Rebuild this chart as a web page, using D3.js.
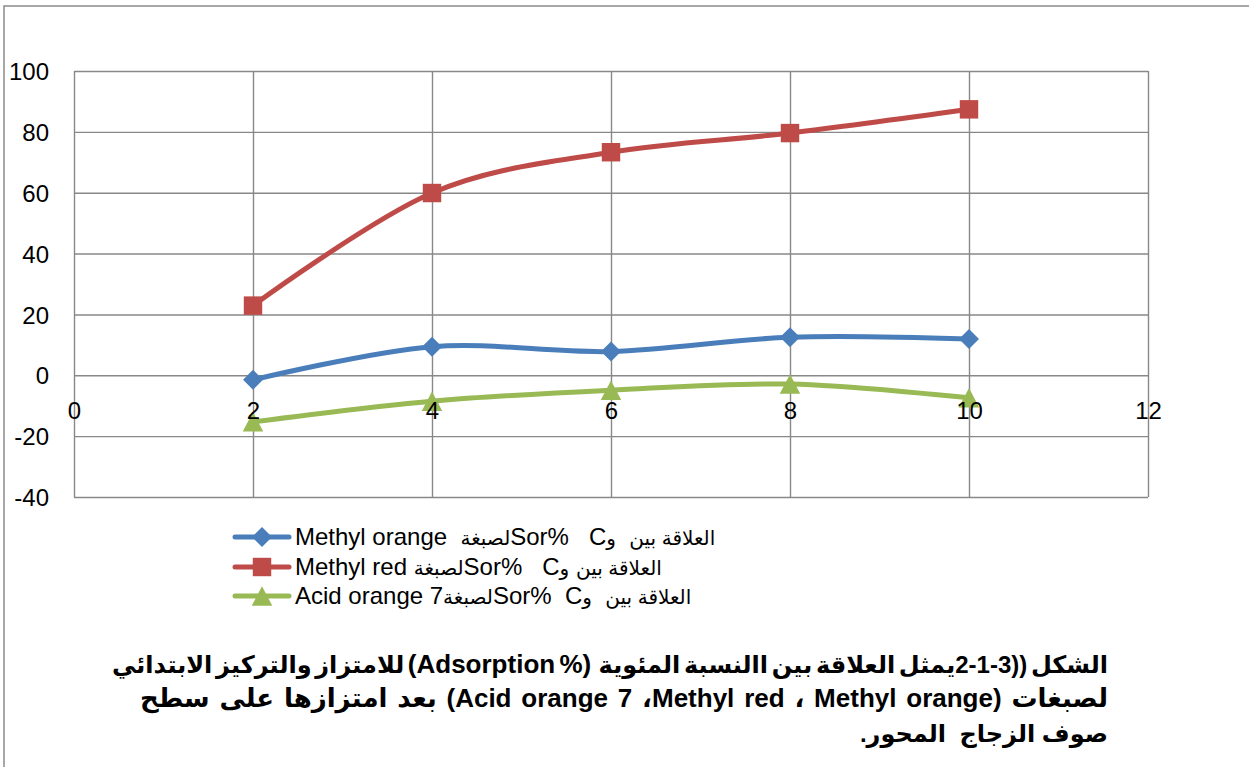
<!DOCTYPE html>
<html><head><meta charset="utf-8">
<script src="https://cdn.jsdelivr.net/npm/d3@7"></script>
<style>
body{margin:0;background:#fff;}
#wrap{position:relative;width:1249px;height:767px;overflow:hidden;font-family:"Liberation Sans","DejaVu Sans",sans-serif;background:#fff;}
svg{position:absolute;left:0;top:0}
.leg{position:absolute;white-space:pre;font-size:24px;line-height:30px;color:#000;direction:ltr;}
.leg .ar{font-size:20px;}
.cap{position:absolute;white-space:pre;font-size:24px;font-weight:bold;line-height:30px;direction:rtl;text-align:right;color:#000;}
.cap .la{font-size:26px;}
.cap.big{font-size:26px;}
</style></head><body><div id="wrap"></div>
<script>
// ---- data ----
const xValues = [2, 4, 6, 8, 10];
const methylOrange = [-1.5, 9.4, 7.8, 12.5, 11.9];
const methylRed = [22.9, 59.9, 73.3, 79.6, 87.4];
const acidOrange7 = [-15.3, -8.5, -4.9, -2.9, -7.4];
const xTicks = [0, 2, 4, 6, 8, 10, 12];
const yTicks = [-40, -20, 0, 20, 40, 60, 80, 100];
const seriesNames = ["Methyl orange", "Methyl red", "Acid orange 7"];
const legendDye = "لصبغة";
const legendSor = "Sor%";
const legendC = "C";
const legendAnd = "و";
const legendRel = "العلاقة بين";
const captionLine1a = "الشكل ((3-1-2يمثل العلاقة بين االنسبة المئوية  ";
const captionLine1b = "(Adsorption %)";
const captionLine1c = " للامتزاز والتركيز الابتدائي";
const captionLine2a = "لصبغات (";
const captionNames = ["Methyl orange", "Methyl red", "Acid orange 7"];
const captionLine2c = ") بعد امتزازها على سطح";
const captionLine3 = "صوف الزجاج  المحور.";

// ---- setup ----
const W = 1249, H = 767;
const wrap = d3.select("#wrap");
const svg = wrap.append("svg").attr("width", W).attr("height", H);
const x = d3.scaleLinear().domain([0, 12]).range([74, 1148]);
const y = d3.scaleLinear().domain([-40, 100]).range([497, 71]);
const colors = ["#4A7EBB", "#BE4B48", "#98B954"];
const gridColor = "#888888";

// outer frame
svg.append("path").attr("d", `M4,${H}V6H${W}`).attr("fill", "none")
  .attr("stroke", "#8a8a8a").attr("stroke-width", 1.5);

// horizontal gridlines + y labels
const gy = svg.append("g").attr("transform", `translate(${x(0)},0)`)
  .call(d3.axisLeft(y).tickValues(yTicks).tickSize(-(x(12) - x(0))).tickPadding(25).tickFormat(d => String(d)));
gy.select(".domain").remove();
gy.selectAll("line").attr("stroke", gridColor).attr("stroke-width", 1.4);
gy.selectAll("text").attr("font-size", 24).attr("font-family", "Liberation Sans").attr("fill", "#000").attr("dy", "0.36em");

// vertical gridlines
const gx = svg.append("g").attr("transform", `translate(0,${y(-40)})`)
  .call(d3.axisBottom(x).tickValues(xTicks).tickSize(-(y(-40) - y(100))).tickFormat(""));
gx.select(".domain").remove();
gx.selectAll("line").attr("stroke", gridColor).attr("stroke-width", 1.4);

// series
const series = [methylOrange, methylRed, acidOrange7];
const line = d3.line().x((d, i) => x(xValues[i])).y(d => y(d)).curve(d3.curveCatmullRom.alpha(0));
const triangle = { draw(ctx, size) { const w = Math.sqrt(size), h = w * 0.95; ctx.moveTo(0, -h / 2); ctx.lineTo(w / 2, h / 2); ctx.lineTo(-w / 2, h / 2); ctx.closePath(); } };
const markers = [
  { type: d3.symbolSquare, size: 200, rot: 45 },
  { type: d3.symbolSquare, size: 340, rot: 0 },
  { type: triangle, size: 420, rot: 0 }
];
series.forEach((vals, si) => {
  svg.append("path").datum(vals).attr("d", line).attr("fill", "none")
    .attr("stroke", colors[si]).attr("stroke-width", 5).attr("stroke-linecap", "round").attr("stroke-linejoin", "round");
  svg.append("g").selectAll("path").data(vals).join("path")
    .attr("d", d3.symbol().type(markers[si].type).size(markers[si].size))
    .attr("transform", (d, i) => `translate(${x(xValues[i])},${y(d)}) rotate(${markers[si].rot})`)
    .attr("fill", colors[si]);
});

// x labels (on top)
const ax = svg.append("g").attr("transform", `translate(0,${y(0)})`)
  .call(d3.axisBottom(x).tickValues(xTicks).tickSize(0).tickPadding(27).tickFormat(d => String(d)));
ax.select(".domain").remove();
ax.selectAll("text").attr("font-size", 24).attr("font-family", "Liberation Sans").attr("fill", "#000");

// legend
const legRows = [537, 567, 596];
const legGaps = [["  ", "   ", "  "], [" ", "   ", " "], ["", "  ", "  "]];
seriesNames.forEach((name, i) => {
  const ly = legRows[i];
  svg.append("line").attr("x1", 235).attr("x2", 289).attr("y1", ly).attr("y2", ly)
    .attr("stroke", colors[i]).attr("stroke-width", 5).attr("stroke-linecap", "round");
  svg.append("path").attr("d", d3.symbol().type(markers[i].type).size(markers[i].size))
    .attr("transform", `translate(262,${ly}) rotate(${markers[i].rot})`).attr("fill", colors[i]);
  const div = wrap.append("div").attr("class", "leg").style("left", "295px").style("top", (ly + 8 - 23.3) + "px");
  const g = legGaps[i];
  div.append("span").text(name + g[0]);
  div.append("span").attr("dir", "rtl").attr("class", "ar").text(legendDye);
  div.append("span").attr("dir", "ltr").text(legendSor + g[1] + legendC);
  div.append("span").attr("dir", "rtl").attr("class", "ar").text(legendAnd);
  div.append("span").text(g[2]);
  div.append("span").attr("dir", "rtl").attr("class", "ar").text(legendRel);
});

// caption
const capRight = W - 1108;
const c1 = wrap.append("div").attr("class", "cap").attr("dir", "rtl").style("right", capRight + "px").style("top", (672 - 23.3) + "px");
c1.append("span").text(captionLine1a);
c1.append("span").attr("dir", "ltr").attr("class", "la").text(captionLine1b);
c1.append("span").text(captionLine1c);
const c2 = wrap.append("div").attr("class", "cap big").attr("dir", "rtl").style("right", capRight + "px").style("top", (707 - 24.5) + "px");
c2.append("span").text(captionLine2a);
c2.append("span").attr("dir", "ltr").text(captionNames[0]);
c2.append("span").text(" ، ");
c2.append("span").attr("dir", "ltr").text(captionNames[1]);
c2.append("span").text("، ");
c2.append("span").attr("dir", "ltr").text(captionNames[2]);
c2.append("span").text(captionLine2c);
wrap.append("div").attr("class", "cap").attr("dir", "rtl").style("right", capRight + "px").style("top", (742 - 23.3) + "px").text(captionLine3);

// fit caption lines 1 and 2 to the reference line widths
function fitWidth(div, target) {
  const node = div.node();
  const w = node.getBoundingClientRect().width;
  const spaces = (node.textContent.match(/ /g) || []).length;
  if (spaces > 0) div.style("word-spacing", ((target - w) / spaces) + "px");
}
fitWidth(c1, 1108 - 112);
fitWidth(c2, 1108 - 140);
</script></body></html>
